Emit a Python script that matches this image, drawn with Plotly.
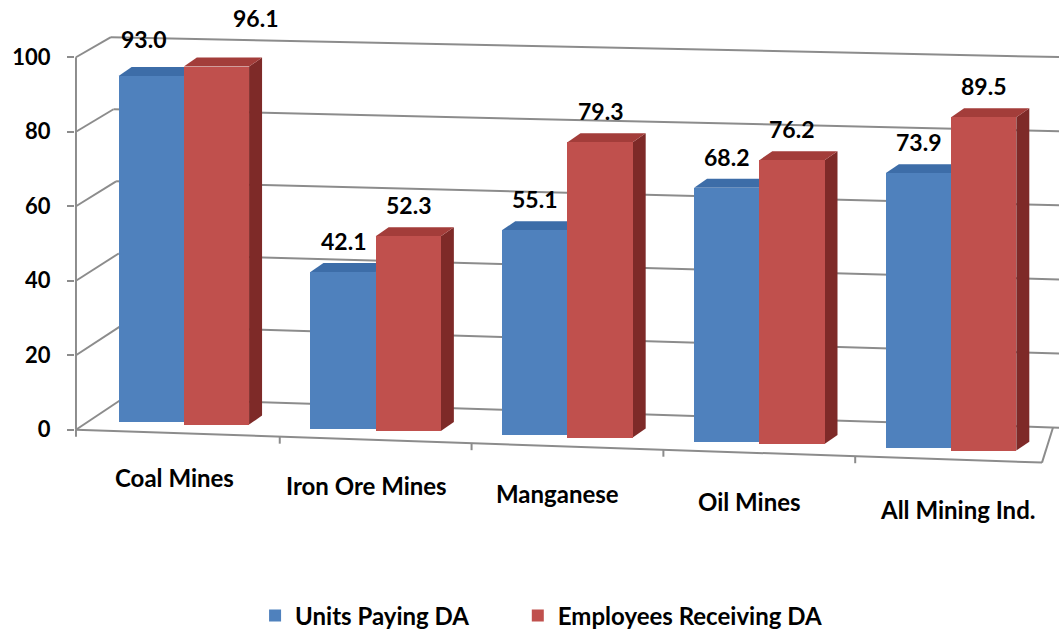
import plotly.graph_objects as go

categories = ["Coal Mines", "Iron Ore Mines", "Manganese", "Oil Mines", "All Mining Ind."]
units_paying = [93.0, 42.1, 55.1, 68.2, 73.9]
employees_receiving = [96.1, 52.3, 79.3, 76.2, 89.5]
y_ticks = [0, 20, 40, 60, 80, 100]

BLUE, BLUE_TOP, BLUE_SIDE = "#4F81BD", "#3D6DA8", "#35598A"
RED, RED_TOP, RED_SIDE = "#C0504D", "#A33D3A", "#7E2A28"
GRID = "#8C8C8C"
FONT = "Lato"

# pixel scale helpers (1 x unit = 192 px, 1 y unit = 3.73 px)
PX_X, PX_Y = 192.0, 3.73
X0 = -0.5625          # front left corner of the floor
X_END = 4.5625
K_FRONT = 0.034 * PX_X / PX_Y   # perspective tilt of the front floor


def floor_front(x):
    return -K_FRONT * (x - X0)


def bar_base(x):
    return 10 / PX_Y + floor_front(x)


def back_x(v):
    return (123 - 0.13 * v - 183) / PX_X


def back_y(v):
    return 8.6 + 0.968 * v


def back_slope(v):
    return (0.032 - 0.00011 * v) * PX_X / PX_Y


BW = 0.34
DXB, DYB = 13 / PX_X, 9 / PX_Y
OFFSETS = [-0.17, 0.17]

fig = go.Figure()
shapes = []

# back wall grid + side wall diagonals
for v in y_ticks:
    bx, by = back_x(v), back_y(v)
    shapes.append(dict(type="line", x0=X0, y0=v, x1=bx, y1=by,
                       line=dict(color=GRID, width=2), layer="below"))
    shapes.append(dict(type="line", x0=bx, y0=by, x1=X_END + 0.1,
                       y1=by - back_slope(v) * (X_END + 0.1 - bx),
                       line=dict(color=GRID, width=2), layer="below"))
# front axis and floor
shapes.append(dict(type="line", x0=X0, y0=0, x1=X0, y1=100,
                   line=dict(color=GRID, width=2), layer="below"))
x_fr = (1042 - 183) / PX_X
shapes.append(dict(type="line", x0=X0, y0=0, x1=x_fr, y1=floor_front(x_fr),
                   line=dict(color=GRID, width=2), layer="below"))
x_br = (1053 - 183) / PX_X
shapes.append(dict(type="line", x0=x_fr, y0=floor_front(x_fr), x1=x_br,
                   y1=back_y(0) - back_slope(0) * (x_br - back_x(0)),
                   line=dict(color=GRID, width=2), layer="below"))
for xt in [X0] + [i + 0.5 for i in range(len(categories) - 1)]:
    shapes.append(dict(type="line", x0=xt, y0=floor_front(xt), x1=xt, y1=floor_front(xt) - 7 / PX_Y,
                       line=dict(color=GRID, width=2), layer="below"))

series = [("Units Paying DA", units_paying, BLUE, BLUE_TOP, BLUE_SIDE, "legend"),
          ("Employees Receiving DA", employees_receiving, RED, RED_TOP, RED_SIDE, "legend2")]

label_nudge = {(1, 0): (39, 18), (0, 0): (-8, 6)}
cat_nudge = {4: 0.085}

annotations = []
for s, (name, vals, col, top_col, side_col, leg) in enumerate(series):
    xs = [i + OFFSETS[s] for i in range(len(vals))]
    bases = [bar_base(x) for x in xs]
    fig.add_trace(go.Bar(x=xs, y=vals, base=bases, width=BW, name=name, legend=leg,
                         marker=dict(color=col, line=dict(width=0)), hoverinfo="skip"))
    for i, (x, b, v) in enumerate(zip(xs, bases, vals)):
        xl, xr, top = x - BW / 2, x + BW / 2, b + v
        shapes.append(dict(type="path", layer="below", line=dict(width=0), fillcolor=side_col,
                           path=f"M{xr},{b} L{xr + DXB},{b + DYB} L{xr + DXB},{top + DYB} L{xr},{top} Z"))
        shapes.append(dict(type="path", layer="below", line=dict(width=0), fillcolor=top_col,
                           path=f"M{xl},{top} L{xl + DXB},{top + DYB} L{xr + DXB},{top + DYB} L{xr},{top} Z"))
        dx, dy = label_nudge.get((s, i), (0, 0))
        annotations.append(dict(x=x, y=top, text=f"{v:.1f}", showarrow=False, yanchor="bottom",
                                yshift=15 + dy, xshift=dx,
                                font=dict(family=FONT, size=23, color="black", weight="bold")))

for i, c in enumerate(categories):
    xc = i - 0.05 + cat_nudge.get(i, 0)
    annotations.append(dict(x=xc, y=floor_front(xc), text=c, showarrow=False, yanchor="middle",
                            yshift=-44 - 1.5 * i,
                            font=dict(family=FONT, size=24, color="black", weight="bold")))

leg_font = dict(family=FONT, size=24, color="black", weight="bold")
fig.update_layout(
    width=1059, height=633,
    margin=dict(l=75, r=0, t=20, b=166, autoexpand=False),
    plot_bgcolor="white", paper_bgcolor="white",
    barmode="overlay", bargap=0,
    shapes=shapes, annotations=annotations,
    showlegend=True,
    legend=dict(orientation="h", x=0.183, xanchor="left", y=-0.333, yanchor="middle",
                font=leg_font, itemwidth=30),
    legend2=dict(orientation="h", x=0.450, xanchor="left", y=-0.333, yanchor="middle",
                 font=leg_font, itemwidth=30),
    xaxis=dict(range=[X0 - 0.005, X_END], showgrid=False, zeroline=False,
               showticklabels=False, ticks="", automargin=False),
    yaxis=dict(range=[-10, 110], tickvals=y_ticks, showgrid=False, zeroline=False,
               ticks="outside", ticklen=7, tickwidth=2, tickcolor=GRID,
               ticklabelstandoff=12, automargin=False,
               tickfont=dict(family=FONT, size=22, color="black", weight="bold")),
)

fig.write_html("out.html", config={"displayModeBar": False},
               post_script="document.body.style.margin='0';document.body.style.overflow='hidden';")
